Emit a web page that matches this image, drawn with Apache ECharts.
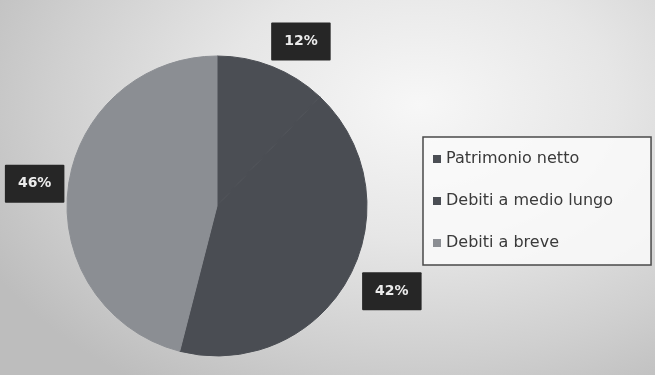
<!DOCTYPE html>
<html>
<head>
<meta charset="utf-8">
<script src="https://cdn.jsdelivr.net/npm/echarts@6/dist/echarts.min.js"></script>
<style>
  html, body { margin: 0; padding: 0; }
  body {
    width: 655px; height: 375px; overflow: hidden;
    background: radial-gradient(ellipse 75% 90% at 64% 28%, #f7f7f7 0%, #e6e6e6 40%, #cfcfcf 75%, #bdbdbd 100%);
  }
  #chart { width: 655px; height: 375px; }
</style>
</head>
<body>
<div id="chart"></div>
<script>
// Composizione delle fonti di finanziamento
const categories = ['Patrimonio netto', 'Debiti a medio lungo', 'Debiti a breve'];
const shares = [12, 42, 46];
const sliceColors = ['#4b4e54', '#4a4d53', '#8b8e93'];
// gap between each value tag and the end of its (hidden) leader line
const tagGaps = [-11, -10, -23];

const chart = echarts.init(document.getElementById('chart'), null, { renderer: 'canvas' });

chart.setOption({
  backgroundColor: 'transparent',
  animation: false,
  legend: {
    orient: 'vertical',
    left: 423,
    top: 137,
    padding: [14, 38, 14, 10],
    backgroundColor: 'rgba(250,250,250,0.85)',
    borderColor: '#4a4a4a',
    borderWidth: 1.5,
    itemWidth: 8,
    itemHeight: 8,
    itemGap: 26,
    itemStyle: { borderWidth: 0 },
    icon: 'rect',
    textStyle: { fontFamily: 'DejaVu Sans', fontSize: 16, color: '#3a3a3a' },
    data: categories
  },
  series: [{
    type: 'pie',
    center: [217, 206],
    radius: 150,
    startAngle: 90,
    clockwise: true,
    avoidLabelOverlap: false,
    data: categories.map((name, i) => ({
      name: name,
      value: shares[i],
      // stroke in the fill colour so adjacent dark slices join without a seam
      itemStyle: { color: sliceColors[i], borderColor: sliceColors[i], borderWidth: 1 },
      label: { distanceToLabelLine: tagGaps[i] }
    })),
    label: {
      show: true,
      position: 'outside',
      formatter: '{c}%',
      fontFamily: 'DejaVu Sans',
      fontSize: 14,
      fontWeight: 'bold',
      color: '#ececec',
      backgroundColor: '#262626',
      padding: [12, 13],
      borderRadius: 1
    },
    labelLine: { show: false, length: 27, length2: 0 },
    emphasis: { disabled: true }
  }]
});
</script>
</body>
</html>
